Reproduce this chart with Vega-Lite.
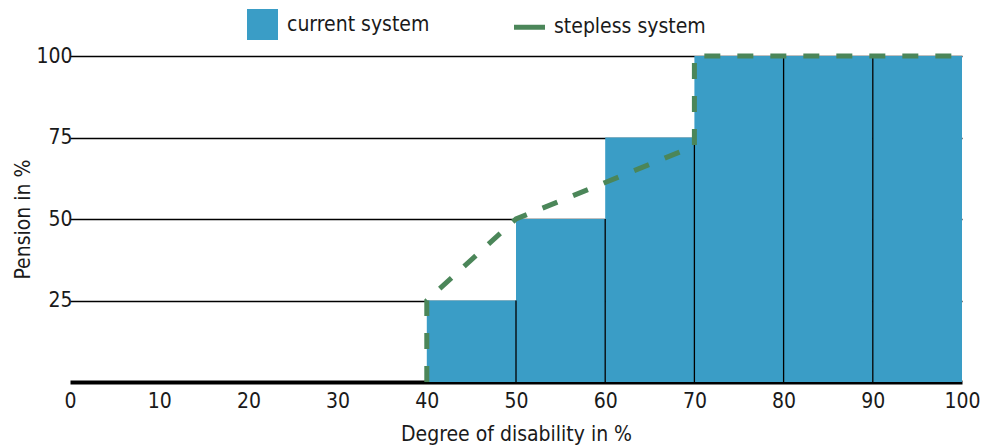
{
  "$schema": "https://vega.github.io/schema/vega-lite/v6.json",
  "width": 892,
  "height": 326,
  "autosize": {"type": "none"},
  "padding": {"left": 70, "top": 56, "right": 33, "bottom": 66},
  "background": "white",
  "config": {
    "view": {"stroke": null},
    "font": "DejaVu Sans Condensed, Roboto Condensed, Liberation Sans Narrow, Roboto, sans-serif",
    "axis": {"labelFont": "DejaVu Sans Condensed, Roboto Condensed, Liberation Sans Narrow, Roboto, sans-serif", "titleFont": "DejaVu Sans Condensed, Roboto Condensed, Liberation Sans Narrow, Roboto, sans-serif", "labelColor": "#1a1a1a", "titleColor": "#1a1a1a", "titleFontWeight": "normal"},
    "legend": {"labelFont": "DejaVu Sans Condensed, Roboto Condensed, Liberation Sans Narrow, Roboto, sans-serif"}
  },
  "datasets": {
    "bars": [
      {"from": 40, "to": 50, "pension": 25, "series": "current system"},
      {"from": 50, "to": 60, "pension": 50, "series": "current system"},
      {"from": 60, "to": 70, "pension": 75, "series": "current system"},
      {"from": 70, "to": 80, "pension": 100, "series": "current system"},
      {"from": 80, "to": 90, "pension": 100, "series": "current system"},
      {"from": 90, "to": 100, "pension": 100, "series": "current system"}
    ],
    "separators": [
      {"degree": 50, "top": 25},
      {"degree": 60, "top": 50},
      {"degree": 70, "top": 75},
      {"degree": 80, "top": 100},
      {"degree": 90, "top": 100}
    ],
    "stepless": [
      {"i": 1, "degree": 40, "pension": 0, "series": "stepless system"},
      {"i": 2, "degree": 40, "pension": 25, "series": "stepless system"},
      {"i": 3, "degree": 50, "pension": 50, "series": "stepless system"},
      {"i": 4, "degree": 60, "pension": 61.2, "series": "stepless system"},
      {"i": 5, "degree": 70, "pension": 72.4, "series": "stepless system"},
      {"i": 6, "degree": 70, "pension": 100, "series": "stepless system"},
      {"i": 7, "degree": 100, "pension": 100, "series": "stepless system"}
    ]
  },
  "layer": [
    {
      "data": {"name": "bars"},
      "mark": {"type": "bar", "opacity": 1},
      "encoding": {
        "x": {"field": "from", "type": "quantitative",
          "scale": {"domain": [0, 100], "nice": false},
          "axis": {"values": [0,10,20,30,40,50,60,70,80,90,100], "grid": false, "ticks": false,
            "domain": true, "domainColor": "black", "domainWidth": 4,
            "labelFontSize": 21, "labelPadding": 8, "labelFlush": false,
            "title": "Degree of disability in %", "titleFontSize": 21, "titlePadding": 12}},
        "x2": {"field": "to"},
        "y": {"field": "pension", "type": "quantitative",
          "scale": {"domain": [0, 100], "nice": false},
          "axis": {"values": [25, 50, 75, 100], "grid": true, "gridColor": "black", "gridWidth": 1.3,
            "ticks": false, "domain": false, "offset": -9,
            "labelFontSize": 21, "labelPadding": 7,
            "title": "Pension in %", "titleFontSize": 21, "titlePadding": 2}},
        "y2": {"datum": 0},
        "color": {"field": "series", "type": "nominal",
          "scale": {"domain": ["current system", "stepless system"], "range": ["#3a9dc6", "#4b8659"]},
          "legend": {
            "title": null, "orient": "none", "direction": "horizontal",
            "legendX": 182, "legendY": -42, "padding": 0,
            "symbolSize": 961, "labelFontSize": 21, "labelColor": "#1a1a1a",
            "labelOffset": 14, "columnPadding": 74,
            "symbolType": "square",
            "encode": {
              "symbols": {"update": {
                "shape": {"signal": "datum.value === 'current system' ? 'square' : 'stroke'"},
                "fill": {"signal": "datum.value === 'current system' ? '#3a9dc6' : 'transparent'"},
                "stroke": {"signal": "datum.value === 'current system' ? 'transparent' : '#4b8659'"},
                "strokeWidth": {"signal": "datum.value === 'current system' ? 0 : 5"},
                "strokeDash": {"value": [200, 0]},
                "opacity": {"value": 1}
              }}
            }
          }}
      }
    },
    {
      "data": {"name": "separators"},
      "mark": {"type": "rule", "color": "black", "strokeWidth": 1.3},
      "encoding": {
        "x": {"field": "degree", "type": "quantitative"},
        "y": {"field": "top", "type": "quantitative"},
        "y2": {"datum": 0}
      }
    },
    {
      "data": {"name": "stepless"},
      "mark": {"type": "line", "strokeWidth": 5, "strokeDash": [16, 17], "strokeCap": "butt", "strokeJoin": "miter"},
      "encoding": {
        "x": {"field": "degree", "type": "quantitative"},
        "y": {"field": "pension", "type": "quantitative"},
        "order": {"field": "i", "type": "quantitative"},
        "color": {"field": "series", "type": "nominal",
          "legend": {
            "title": null, "orient": "none", "direction": "horizontal",
            "legendX": 182, "legendY": -42, "padding": 0,
            "symbolSize": 961, "labelFontSize": 21, "labelColor": "#1a1a1a",
            "labelOffset": 14, "columnPadding": 74,
            "symbolType": "square",
            "encode": {
              "symbols": {"update": {
                "shape": {"signal": "datum.value === 'current system' ? 'square' : 'stroke'"},
                "fill": {"signal": "datum.value === 'current system' ? '#3a9dc6' : 'transparent'"},
                "stroke": {"signal": "datum.value === 'current system' ? 'transparent' : '#4b8659'"},
                "strokeWidth": {"signal": "datum.value === 'current system' ? 0 : 5"},
                "strokeDash": {"value": [200, 0]},
                "opacity": {"value": 1}
              }}
            }
          }}
      }
    }
  ]
}
